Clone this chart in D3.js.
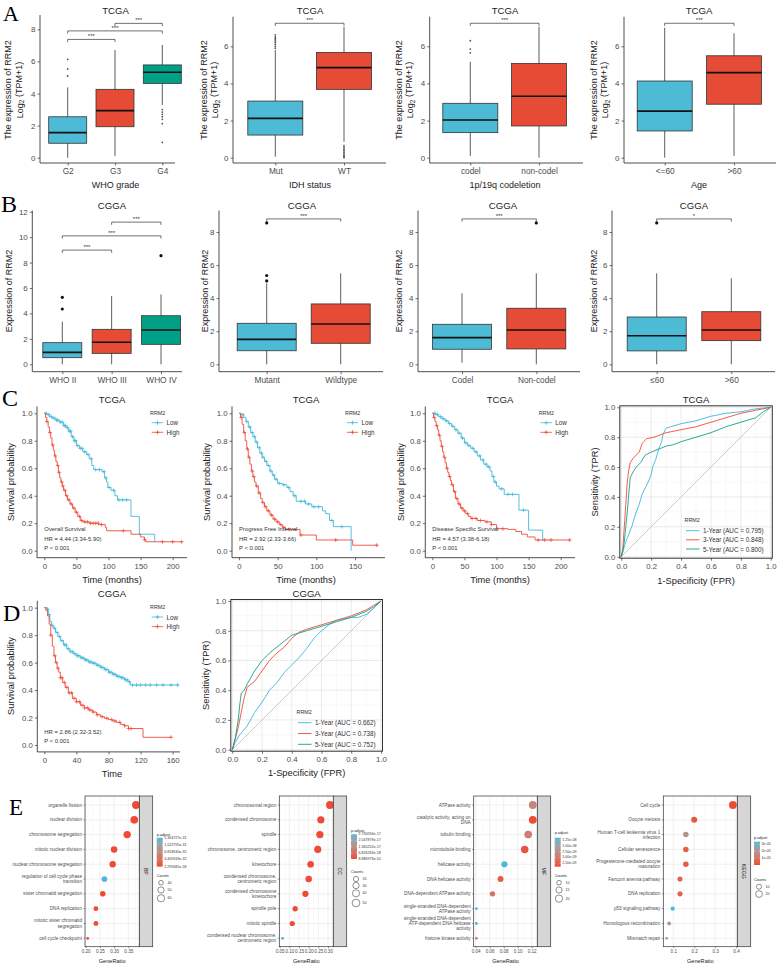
<!DOCTYPE html>
<html><head><meta charset="utf-8">
<script src="https://cdn.jsdelivr.net/npm/d3@7"></script>
<style>body{margin:0;background:#fff}</style>
</head><body><script>
// ================= DATA =================
const BLUE="#4DBBD5", RED="#E64B35", GREEN="#00A087";
// ---- Panel A (TCGA boxplots): stats = [whiskerLow, q1, median, q3, whiskerHigh]
const gradeCats=["G2","G3","G4"];
const gradeStats=[[0,0.9,1.56,2.55,4.38],[0.1,1.93,2.93,4.26,6.71],[3.28,4.63,5.32,5.78,7.02]];
const gradeOut=[[6.13,5.53,5.09],[],[3.0,2.84,2.7,2.55,2.39,2.12,0.95]];
const gradeSig=[[0,1,7.37,"***"],[0,2,7.9,"***"],[1,2,8.37,"***"]];
const idhCats=["Mut","WT"];
const idhStats=[[0.05,1.22,2.12,3.05,5.8],[0.86,3.68,4.85,5.67,7.05]];
const idhOut=[[6.62,6.5,6.42,6.35,6.28,6.2,6.1,6.0,5.9],[0.65,0.55,0.46,0.38,0.3,0.2,0.12,0.05,0.0]];
const codelCats=["codel","non-codel"];
const codelStats=[[0.1,1.35,2.03,2.93,5.16],[0,1.71,3.31,5.08,7.05]];
const codelOut=[[6.3,5.85,5.65],[]];
const ageCats=["<=60",">60"];
const ageStats=[[0,1.44,2.51,4.13,7.0],[0.1,2.88,4.58,5.49,6.7]];
const ageOut=[[],[]];
const pairSigA=[[0,1,7.24,"***"]];
// ---- Panel B (CGGA boxplots)
const cgGradeCats=["WHO II","WHO III","WHO IV"];
const cgGradeStats=[[0,0.52,0.94,1.7,3.35],[0,0.86,1.73,2.75,5.37],[0,1.57,2.7,3.82,5.5]];
const cgGradeOut=[[5.27,4.35],[],[8.54]];
const cgGradeSig=[[0,1,8.98,"***"],[0,2,10.1,"***"],[1,2,11.18,"***"]];
const cgIdhCats=["Mutant","Wildtype"];
const cgIdhStats=[[0,0.82,1.51,2.48,4.9],[0,1.27,2.44,3.65,5.5]];
const cgIdhOut=[[8.55,5.37,5.04],[]];
const cgCodelCats=["Codel","Non-codel"];
const cgCodelStats=[[0.1,0.91,1.61,2.42,4.29],[0,0.93,2.07,3.39,5.5]];
const cgCodelOut=[[],[8.55]];
const cgAgeCats=["\u226460",">60"];
const cgAgeStats=[[0,0.81,1.73,2.86,5.5],[0,1.43,2.07,3.18,5.2]];
const cgAgeOut=[[8.55],[]];
const cgSig3=[[0,1,8.79,"***"]];
const cgSig1=[[0,1,8.79,"*"]];
// ---- Panel C/D survival curves [time, survival]
const osLow=[[0,1],[4,0.99],[8,0.975],[12,0.965],[18,0.95],[24,0.935],[30,0.91],[34,0.895],[38,0.87],[42,0.83],[46,0.8],[50,0.765],[55,0.745],[60,0.72],[66,0.7],[70,0.67],[74,0.62],[77,0.59],[90,0.575],[94,0.53],[97,0.5],[99,0.46],[104,0.44],[110,0.4],[114,0.37],[135,0.25],[148,0.12],[172,0.065]];
const osHigh=[[0,1],[2,0.97],[4,0.94],[6,0.9],[8,0.86],[10,0.82],[12,0.77],[14,0.73],[16,0.69],[18,0.65],[20,0.62],[22,0.57],[24,0.53],[26,0.5],[28,0.47],[30,0.44],[33,0.4],[36,0.37],[40,0.34],[44,0.31],[48,0.28],[52,0.25],[56,0.22],[60,0.21],[70,0.2],[85,0.19],[95,0.17],[97,0.145],[135,0.12],[150,0.1],[156,0.08],[158,0.065],[215,0.065]];
const osLowCens=[3,7,11,15,19,21,25,28,31,33,36,39,41,44,47,49,52,56,59,63,68,73,80,86,93,96,101,108,116,122,128];
const osHighCens=[4,9,13,17,21,23,27,29,32,35,38,42,46,50,55,58,63,67,72,76,80,84,89,123,156,184,200,214];
const pfiLow=[[0,1],[3,0.99],[6,0.97],[9,0.94],[12,0.9],[15,0.86],[18,0.83],[21,0.79],[24,0.75],[27,0.71],[30,0.68],[33,0.65],[36,0.62],[40,0.58],[43,0.55],[46,0.52],[50,0.49],[56,0.48],[62,0.46],[66,0.43],[70,0.4],[74,0.36],[86,0.34],[94,0.32],[108,0.29],[112,0.27],[117,0.22],[122,0.175],[145,0]];
const pfiHigh=[[0,1],[2,0.97],[4,0.92],[6,0.86],[8,0.8],[10,0.74],[12,0.68],[14,0.63],[16,0.58],[18,0.54],[20,0.5],[22,0.47],[25,0.42],[28,0.38],[30,0.35],[33,0.32],[36,0.29],[40,0.26],[44,0.23],[48,0.21],[52,0.19],[56,0.17],[60,0.155],[79,0.114],[100,0.078],[147,0.04],[180,0.04]];
const pfiLowCens=[5,10,14,17,20,23,26,29,31,35,38,41,45,48,52,58,64,72,80,85,90,97,103,120,133];
const pfiHighCens=[3,7,11,13,17,19,23,26,31,34,38,42,46,50,54,58,65,80,125,178];
const dssLow=[[0,1],[5,0.99],[10,0.975],[15,0.96],[20,0.945],[25,0.925],[30,0.905],[35,0.88],[40,0.855],[45,0.82],[50,0.785],[55,0.765],[60,0.745],[65,0.72],[70,0.69],[75,0.66],[80,0.63],[85,0.61],[90,0.58],[93,0.54],[96,0.5],[100,0.47],[104,0.45],[112,0.41],[135,0.295],[150,0.15],[172,0.073]];
const dssHigh=[[0,1],[2,0.97],[4,0.94],[6,0.91],[8,0.88],[10,0.84],[12,0.8],[14,0.76],[16,0.72],[18,0.68],[20,0.64],[22,0.6],[24,0.57],[26,0.54],[28,0.51],[30,0.48],[33,0.43],[36,0.38],[40,0.34],[44,0.31],[48,0.29],[52,0.27],[56,0.25],[60,0.235],[70,0.22],[82,0.21],[92,0.19],[100,0.16],[118,0.155],[130,0.14],[139,0.12],[148,0.1],[160,0.078],[215,0.078]];
const dssLowCens=[4,8,13,17,22,27,32,37,42,47,52,57,63,68,74,79,84,88,95,98,108,118,125,142];
const dssHighCens=[3,7,11,15,19,23,27,31,35,38,42,46,50,55,62,68,75,85,92,110,165,175,185,214];
const cgLow=[[0,1],[3,0.99],[5,0.95],[7,0.9],[9,0.87],[11,0.85],[14,0.82],[17,0.79],[20,0.76],[24,0.73],[28,0.7],[32,0.68],[36,0.665],[40,0.65],[45,0.635],[50,0.62],[55,0.605],[60,0.595],[65,0.58],[70,0.565],[75,0.55],[80,0.53],[85,0.515],[90,0.5],[95,0.49],[100,0.475],[104,0.46],[107,0.437],[168,0.437]];
const cgHigh=[[0,1],[2,0.98],[4,0.94],[6,0.88],[8,0.8],[10,0.72],[12,0.65],[14,0.6],[16,0.56],[18,0.53],[20,0.49],[23,0.455],[26,0.42],[30,0.38],[35,0.34],[40,0.315],[45,0.29],[50,0.27],[55,0.255],[60,0.24],[65,0.22],[70,0.206],[75,0.195],[80,0.185],[85,0.175],[90,0.165],[95,0.15],[100,0.14],[105,0.12],[123,0.056],[158,0.056]];
const cgLowCens=[4,6,10,13,16,19,22,25,27,30,33,35,38,41,43,46,48,51,53,56,58,61,63,66,68,71,73,76,78,81,83,86,88,91,93,96,98,101,103,106,110,115,120,126,132,140,148,158,166];
const cgHighCens=[8,13,15,17,20,22,25,28,31,34,37,40,44,47,50,54,57,61,66,72,78,84,88,94,100,105,108,158];
// ---- ROC curves [FPR, TPR]
const tcga1y=[[0,0],[0.01,0.03],[0.03,0.1],[0.05,0.15],[0.07,0.2],[0.09,0.27],[0.1,0.3],[0.12,0.35],[0.14,0.42],[0.16,0.46],[0.18,0.5],[0.2,0.55],[0.21,0.6],[0.23,0.65],[0.25,0.72],[0.27,0.77],[0.28,0.82],[0.3,0.86],[0.33,0.87],[0.4,0.89],[0.5,0.91],[0.6,0.94],[0.7,0.96],[0.8,0.97],[0.85,0.98],[0.9,0.99],[1,1]];
const tcga3y=[[0,0],[0.01,0.05],[0.02,0.2],[0.03,0.35],[0.04,0.5],[0.05,0.58],[0.06,0.63],[0.08,0.66],[0.1,0.68],[0.12,0.7],[0.14,0.76],[0.17,0.79],[0.22,0.8],[0.3,0.83],[0.4,0.85],[0.5,0.87],[0.6,0.9],[0.7,0.93],[0.8,0.96],[0.9,0.98],[1,1]];
const tcga5y=[[0,0],[0.01,0.04],[0.02,0.1],[0.03,0.2],[0.04,0.3],[0.05,0.42],[0.06,0.53],[0.08,0.57],[0.1,0.6],[0.13,0.63],[0.16,0.68],[0.2,0.7],[0.25,0.72],[0.3,0.74],[0.35,0.75],[0.4,0.77],[0.5,0.8],[0.6,0.83],[0.7,0.87],[0.8,0.9],[0.9,0.93],[0.95,0.97],[1,1]];
const cgga1y=[[0,0],[0.02,0.05],[0.05,0.1],[0.1,0.16],[0.15,0.25],[0.2,0.32],[0.25,0.4],[0.3,0.45],[0.35,0.52],[0.4,0.57],[0.45,0.62],[0.5,0.68],[0.55,0.75],[0.6,0.8],[0.65,0.84],[0.7,0.87],[0.8,0.89],[0.85,0.89],[0.9,0.91],[0.95,0.95],[1,1]];
const cgga3y=[[0,0],[0.02,0.07],[0.04,0.15],[0.06,0.25],[0.08,0.35],[0.1,0.42],[0.15,0.46],[0.2,0.53],[0.25,0.6],[0.3,0.65],[0.35,0.69],[0.4,0.75],[0.45,0.79],[0.5,0.81],[0.6,0.84],[0.7,0.87],[0.8,0.9],[0.9,0.94],[0.95,0.97],[1,1]];
const cgga5y=[[0,0],[0.02,0.08],[0.04,0.2],[0.05,0.3],[0.06,0.38],[0.08,0.4],[0.1,0.44],[0.15,0.53],[0.2,0.6],[0.25,0.65],[0.3,0.69],[0.35,0.73],[0.4,0.77],[0.5,0.8],[0.6,0.83],[0.7,0.86],[0.8,0.89],[0.9,0.93],[0.95,0.96],[1,1]];
const tcgaRocLabels=["1-Year (AUC = 0.795)","3-Year (AUC = 0.848)","5-Year (AUC = 0.800)"];
const cggaRocLabels=["1-Year (AUC = 0.662)","3-Year (AUC = 0.738)","5-Year (AUC = 0.752)"];
// ---- Panel E enrichment
const bpTerms=["organelle fission","nuclear division","chromosome segregation","mitotic nuclear division","nuclear chromosome segregation","regulation of cell cycle phase\ntransition","sister chromatid segregation","DNA replication","mitotic sister chromatid\nsegregation","cell cycle checkpoint"];
const bpRatio=[0.377,0.371,0.346,0.30,0.295,0.266,0.26,0.236,0.236,0.207];
const bpCount=[65,64,60,52,51,46,45,41,41,36];
const bpP=[2.3e-58,1e-55,3e-50,2e-45,1e-44,1.363727e-31,5e-40,2e-35,4e-35,1e-34];
const bpPLabels=["1.363727e-31","1.022795e-31","6.818630e-32","3.409318e-32","2.299081e-58"];
const bpCountBreaks=[40,50,60];
const ccTerms=["chromosomal region","condensed chromosome","spindle","chromosome, centromeric region","kinetochore","condensed chromosome,\ncentromeric region","condensed chromosome\nkinetochore","spindle pole","mitotic spindle","condensed nuclear chromosome,\ncentromeric region"];
const ccRatio=[0.31,0.263,0.258,0.247,0.21,0.20,0.183,0.13,0.115,0.065];
const ccCount=[50,42,42,40,34,32,29,21,19,10];
const ccP=[8.886973e-50,1e-45,3e-44,1e-42,1e-38,5e-36,1e-34,2e-25,5e-24,2.730594e-17];
const ccPLabels=["2.730594e-17","2.047879e-17","1.365252e-17","6.826263e-18","8.886973e-50"];
const ccCountBreaks=[20,30,40,50];
const mfTerms=["ATPase activity","catalytic activity, acting on\nDNA","tubulin binding","microtubule binding","helicase activity","DNA helicase activity","DNA-dependent ATPase activity","single-stranded DNA-dependent\nATPase activity","single-stranded DNA-dependent\nATP-dependent DNA helicase\nactivity","histone kinase activity"];
const mfRatio=[0.1215,0.1215,0.115,0.11,0.081,0.0755,0.064,0.041,0.041,0.041];
const mfCount=[23,23,22,21,15,14,12,8,8,8];
const mfP=[6.5e-9,1e-9,5.5e-9,1.6e-9,1.35e-8,2.3e-9,4.5e-9,1.35e-8,1.35e-8,5e-9];
const mfPLabels=["1.25e-08","1.00e-08","7.50e-09","5.00e-09","2.50e-09"];
const mfCountBreaks=[10,15,20];
const keggTerms=["Cell cycle","Oocyte meiosis","Human T-cell leukemia virus 1\ninfection","Cellular senescence","Progesterone-mediated oocyte\nmaturation","Fanconi anemia pathway","DNA replication","p53 signaling pathway","Homologous recombination","Mismatch repair"];
const keggRatio=[0.385,0.2,0.16,0.16,0.16,0.132,0.132,0.097,0.08,0.068];
const keggCount=[29,15,12,12,12,10,10,7,6,5];
const keggP=[1e-12,2e-6,1.8e-5,4e-6,4e-6,5e-6,5e-6,3.4e-5,2e-5,2.2e-5];
const keggPLabels=["3e-05","2e-05","1e-05"];
const keggCountBreaks=[10,20];

// ================= DRAWING =================
const FONT="'Liberation Sans', Arial, Helvetica, sans-serif";
const SERIF="'Liberation Serif','Times New Roman',serif";
const svg=d3.select("body").append("svg").attr("width",777).attr("height",964).style("display","block");

function txt(g,x,y,s,o={}){
  const t=g.append("text").attr("x",x).attr("y",y).text(s)
    .attr("font-family",o.family||FONT).attr("font-size",o.size||8)
    .attr("fill",o.fill||"#222").attr("text-anchor",o.anchor||"start");
  if(o.base) t.attr("dominant-baseline",o.base);
  if(o.rotate!=null) t.attr("transform",`rotate(${o.rotate},${x},${y})`);
  return t;
}
function styleAxis(a,fs,col){
  a.select(".domain").remove();
  a.selectAll(".tick line").attr("stroke","#333").attr("stroke-width",0.7);
  a.selectAll(".tick text").attr("font-size",fs).attr("fill",col||"#4d4d4d").attr("font-family",FONT);
}

// ---------- Boxplot panel ----------
function boxPanel(o){
  const g=svg.append("g");
  const y=d3.scaleLinear().domain(o.yAnchor).range(o.yPix);
  const x=d3.scalePoint().domain(o.cats).range(o.xPix);
  o.stats.forEach((s,i)=>{
    const cx=x(o.cats[i]);
    g.append("line").attr("x1",cx).attr("x2",cx).attr("y1",y(s[0])).attr("y2",y(s[4])).attr("stroke","#333").attr("stroke-width",0.8);
    g.append("rect").attr("x",cx-o.boxW/2).attr("y",y(s[3])).attr("width",o.boxW).attr("height",y(s[1])-y(s[3]))
      .attr("fill",o.colors[i]).attr("stroke","#333").attr("stroke-width",0.8);
    g.append("line").attr("x1",cx-o.boxW/2).attr("x2",cx+o.boxW/2).attr("y1",y(s[2])).attr("y2",y(s[2])).attr("stroke","#111").attr("stroke-width",1.6);
    (o.out[i]||[]).forEach(v=>g.append("circle").attr("cx",cx).attr("cy",y(v)).attr("r",o.outR).attr("fill",o.outFill));
  });
  (o.sig||[]).forEach(b=>{
    const x1=x(o.cats[b[0]]),x2=x(o.cats[b[1]]),yy=y(b[2]);
    g.append("path").attr("d",`M${x1},${yy+2.7}V${yy}H${x2}V${yy+2.7}`).attr("fill","none").attr("stroke","#333").attr("stroke-width",0.7);
    txt(g,(x1+x2)/2,yy-1.2,b[3],{size:6,anchor:"middle",fill:"#333"});
  });
  g.append("line").attr("x1",o.axX).attr("x2",o.axX).attr("y1",o.axTop).attr("y2",o.axBot).attr("stroke","#222").attr("stroke-width",0.8);
  g.append("line").attr("x1",o.axX).attr("x2",o.axRight).attr("y1",o.axBot).attr("y2",o.axBot).attr("stroke","#222").attr("stroke-width",0.8);
  const ay=g.append("g").attr("transform",`translate(${o.axX},0)`).call(d3.axisLeft(y).tickValues(o.yTicks).tickSize(2.5).tickPadding(2).tickFormat(d3.format("d")));
  styleAxis(ay,8);
  const ax=g.append("g").attr("transform",`translate(0,${o.axBot})`).call(d3.axisBottom(x).tickSize(2.5).tickPadding(3));
  styleAxis(ax,8.3);
  txt(g,o.cx,o.titleY,o.title,{size:9.6,anchor:"middle",base:"central",fill:"#222"});
  if(o.xlab) txt(g,o.cx,o.xlabY,o.xlab,{size:9,anchor:"middle",base:"central",fill:"#222"});
  if(o.ylab2){
    txt(g,o.ylabX[0],o.ylabY,o.ylab,{size:9,anchor:"middle",rotate:-90});
    const t=g.append("text").attr("x",o.ylabX[1]).attr("y",o.ylabY).attr("font-family",FONT).attr("font-size",9).attr("fill","#222")
      .attr("text-anchor","middle").attr("transform",`rotate(-90,${o.ylabX[1]},${o.ylabY})`);
    t.append("tspan").text("Log");
    t.append("tspan").text("2").attr("font-size",6.5).attr("dy","0.3em");
    t.append("tspan").text(" (TPM+1)").attr("dy","-0.3em");
  } else {
    txt(g,o.ylabX[0],o.ylabY,o.ylab,{size:9,anchor:"middle",rotate:-90});
  }
}

const A={yTicks:null,axTop:15,axBot:163,titleY:10,xlabY:185,ylabY:90,outR:0.9,outFill:"#555",ylab:"The expression of RRM2",ylab2:true};
boxPanel({...A,cats:gradeCats,stats:gradeStats,out:gradeOut,sig:gradeSig,colors:[BLUE,RED,GREEN],xPix:[67.7,162.3],boxW:38,
  yAnchor:[0,8],yPix:[157.7,29.3],yTicks:[0,2,4,6,8],axX:40,axRight:175,cx:115.5,title:"TCGA",xlab:"WHO grade",ylabX:[11,22.5]});
boxPanel({...A,cats:idhCats,stats:idhStats,out:idhOut,sig:pairSigA,colors:[BLUE,RED],xPix:[275.3,344],boxW:55,
  yAnchor:[0,6],yPix:[157.7,46.3],yTicks:[0,2,4,6],axX:233,axTop:16.7,axRight:386,cx:310,title:"TCGA",xlab:"IDH status",ylabX:[206.5,218]});
boxPanel({...A,cats:codelCats,stats:codelStats,out:codelOut,sig:pairSigA,colors:[BLUE,RED],xPix:[470.3,539],boxW:55,
  yAnchor:[0,6],yPix:[157.7,46.3],yTicks:[0,2,4,6],axX:429.7,axTop:16.7,axRight:583,cx:505,title:"TCGA",xlab:"1p/19q codeletion",ylabX:[401.5,413]});
boxPanel({...A,cats:ageCats,stats:ageStats,out:ageOut,sig:pairSigA,colors:[BLUE,RED],xPix:[664.7,734],boxW:55,
  yAnchor:[0,6],yPix:[157.7,46.3],yTicks:[0,2,4,6],axX:624,axTop:16.7,axRight:776,cx:699,title:"TCGA",xlab:"Age",ylabX:[596.5,608]});

const B={axTop:210.5,axBot:371.7,titleY:205,ylabY:291,outR:1.6,outFill:"#111",ylab:"Expression of RRM2",ylab2:false};
boxPanel({...B,cats:cgGradeCats,stats:cgGradeStats,out:cgGradeOut,sig:cgGradeSig,colors:[BLUE,RED,GREEN],xPix:[62.3,161],boxW:39,
  yAnchor:[0,12],yPix:[364.3,211.7],yTicks:[0,2,4,6,8,10,12],axX:32.3,axRight:182,cx:112,title:"CGGA",ylabX:[12]});
boxPanel({...B,cats:cgIdhCats,stats:cgIdhStats,out:cgIdhOut,sig:cgSig3,colors:[BLUE,RED],xPix:[266.7,340.7],boxW:59,
  yAnchor:[0,8],yPix:[364.3,232],yTicks:[0,2,4,6,8],axX:219,axRight:383,cx:302,title:"CGGA",ylabX:[207.5]});
boxPanel({...B,cats:cgCodelCats,stats:cgCodelStats,out:cgCodelOut,sig:cgSig3,colors:[BLUE,RED],xPix:[462,536.3],boxW:59,
  yAnchor:[0,8],yPix:[364.3,232],yTicks:[0,2,4,6,8],axX:418,axRight:580,cx:503,title:"CGGA",ylabX:[402]});
boxPanel({...B,cats:cgAgeCats,stats:cgAgeStats,out:cgAgeOut,sig:cgSig1,colors:[BLUE,RED],xPix:[656.7,731.3],boxW:59,
  yAnchor:[0,8],yPix:[364.3,232],yTicks:[0,2,4,6,8],axX:612,axRight:775,cx:694,title:"CGGA",ylabX:[596.5]});

// ---------- KM panel ----------
const KLOW="#45B9D9", KHIGH="#EE4D3A";
function survAt(c,t){let s=c[0][1];for(const p of c){if(p[0]<=t)s=p[1];else break;}return s;}
function kmPanel(o){
  const g=svg.append("g");
  const x=d3.scaleLinear().domain(o.xAnchor).range(o.xPix);
  const y=d3.scaleLinear().domain([0,1]).range(o.yPix);
  const line=d3.line().x(d=>x(d[0])).y(d=>y(d[1])).curve(d3.curveStepAfter);
  [[o.low,o.lowC,KLOW],[o.high,o.highC,KHIGH]].forEach(([c,cens,col])=>{
    g.append("path").attr("d",line(c)).attr("fill","none").attr("stroke",col).attr("stroke-width",0.9);
    const p=cens.map(t=>{const cx=x(t),cy=y(survAt(c,t));return `M${cx-2},${cy}h4M${cx},${cy-2}v4`;}).join("");
    g.append("path").attr("d",p).attr("stroke",col).attr("stroke-width",0.7).attr("fill","none");
  });
  g.append("line").attr("x1",o.axX).attr("x2",o.axX).attr("y1",o.axTop).attr("y2",o.axBot).attr("stroke","#222").attr("stroke-width",0.8);
  g.append("line").attr("x1",o.axX).attr("x2",o.axRight).attr("y1",o.axBot).attr("y2",o.axBot).attr("stroke","#222").attr("stroke-width",0.8);
  const ay=g.append("g").attr("transform",`translate(${o.axX},0)`).call(d3.axisLeft(y).tickValues([0,0.2,0.4,0.6,0.8,1]).tickSize(2.5).tickPadding(2).tickFormat(d3.format(".1f")));
  styleAxis(ay,7.8);
  const ax=g.append("g").attr("transform",`translate(0,${o.axBot})`).call(d3.axisBottom(x).tickValues(o.xTicks).tickSize(2.5).tickPadding(3).tickFormat(d3.format("d")));
  styleAxis(ax,7.8);
  txt(g,o.cx,o.titleY,o.title,{size:9.6,anchor:"middle",base:"central"});
  txt(g,o.cx,o.xlabY,o.xlab,{size:9.3,anchor:"middle",base:"central"});
  txt(g,o.ylabX,o.ylabY,"Survival probability",{size:9.3,anchor:"middle",rotate:-90});
  // legend
  txt(g,o.legX,o.legY,"RRM2",{size:5.4,base:"central",fill:"#333"});
  [["Low",KLOW],["High",KHIGH]].forEach(([n,col],i)=>{
    const yy=o.legY+9.7+i*9.6, x1=o.legX+1.7, x2=o.legX+13.3, mx=(x1+x2)/2;
    g.append("path").attr("d",`M${x1},${yy}H${x2}M${mx-2},${yy}h4M${mx},${yy-2}v4`).attr("stroke",col).attr("stroke-width",0.8);
    txt(g,o.legX+16.5,yy,n,{size:6.3,base:"central",fill:"#333"});
  });
  o.annot.forEach((s,i)=>txt(g,o.annX,o.annY[i],s,{size:5.9,base:"central",fill:"#333"}));
}
const Crow={yPix:[550.7,413.3],axTop:406.4,axBot:557.7,titleY:399,xlab:"Time (months)",xlabY:580,ylabY:482,legY:413,annY:[529,539,548.3]};
kmPanel({...Crow,xAnchor:[0,200],xPix:[44.3,172.7],axX:37,axRight:187,xTicks:[0,50,100,150,200],title:"TCGA",cx:112,ylabX:14,
  low:osLow,high:osHigh,lowC:osLowCens,highC:osHighCens,legX:150,annX:44.3,annot:["Overall Survival","HR = 4.44 (3.34-5.90)","P < 0.001"]});
kmPanel({...Crow,xAnchor:[0,150],xPix:[239,355],axX:232,axRight:385,xTicks:[0,50,100,150],title:"TCGA",cx:306,ylabX:209.5,
  low:pfiLow,high:pfiHigh,lowC:pfiLowCens,highC:pfiHighCens,legX:345,annX:239,annot:["Progress Free Interval","HR = 2.92 (2.33-3.66)","P < 0.001"]});
kmPanel({...Crow,xAnchor:[0,200],xPix:[432.3,560.7],axX:425.3,axRight:575,xTicks:[0,50,100,150,200],title:"TCGA",cx:500,ylabX:403.5,
  low:dssLow,high:dssHigh,lowC:dssLowCens,highC:dssHighCens,legX:538.7,annX:432.3,annot:["Disease Specific Survival","HR = 4.57 (3.38-6.18)","P < 0.001"]});
kmPanel({yPix:[745,607.7],axTop:600.8,axBot:751.9,titleY:593,xlab:"Time",xlabY:774,ylabY:676,legY:607.3,annY:[731.7,740.7],
  xAnchor:[0,160],xPix:[44.3,172.7],axX:37.3,axRight:180,xTicks:[0,40,80,120,160],title:"CGGA",cx:112,ylabX:14,
  low:cgLow,high:cgHigh,lowC:cgLowCens,highC:cgHighCens,legX:150,annX:44.3,annot:["HR = 2.86 (2.32-3.52)","P < 0.001"]});

// ---------- ROC panel ----------
const RCOL=["#3DB8DA","#F04C3B","#13A286"];
function rocPanel(o){
  const g=svg.append("g");
  const x=d3.scaleLinear().domain([0,1]).range(o.xPix);
  const y=d3.scaleLinear().domain([0,1]).range(o.yPix);
  const [px0,px1]=o.panelX,[py0,py1]=o.panelY;
  g.append("rect").attr("x",px0).attr("y",py0).attr("width",px1-px0).attr("height",py1-py0).attr("fill","#fff");
  const minor=[0.1,0.3,0.5,0.7,0.9], major=[0,0.2,0.4,0.6,0.8,1];
  minor.forEach(v=>{
    g.append("line").attr("x1",x(v)).attr("x2",x(v)).attr("y1",py0).attr("y2",py1).attr("stroke","#f1f1f1").attr("stroke-width",0.5);
    g.append("line").attr("y1",y(v)).attr("y2",y(v)).attr("x1",px0).attr("x2",px1).attr("stroke","#f1f1f1").attr("stroke-width",0.5);
  });
  major.forEach(v=>{
    g.append("line").attr("x1",x(v)).attr("x2",x(v)).attr("y1",py0).attr("y2",py1).attr("stroke","#e2e2e2").attr("stroke-width",0.7);
    g.append("line").attr("y1",y(v)).attr("y2",y(v)).attr("x1",px0).attr("x2",px1).attr("stroke","#e2e2e2").attr("stroke-width",0.7);
  });
  g.append("line").attr("x1",x(0)).attr("y1",y(0)).attr("x2",x(1)).attr("y2",y(1)).attr("stroke","#c4c4c4").attr("stroke-width",0.9);
  const line=d3.line().x(d=>x(d[0])).y(d=>y(d[1]));
  o.curves.forEach((c,i)=>g.append("path").attr("d",line(c)).attr("fill","none").attr("stroke",RCOL[i]).attr("stroke-width",0.9));
  g.append("rect").attr("x",px0).attr("y",py0).attr("width",px1-px0).attr("height",py1-py0).attr("fill","none").attr("stroke","#333").attr("stroke-width",1);
  const ay=g.append("g").attr("transform",`translate(${px0},0)`).call(d3.axisLeft(y).tickValues(major).tickSize(2.5).tickPadding(2).tickFormat(d3.format(".1f")));
  styleAxis(ay,7.8);
  const ax=g.append("g").attr("transform",`translate(0,${py1})`).call(d3.axisBottom(x).tickValues(major).tickSize(2.5).tickPadding(3).tickFormat(d3.format(".1f")));
  styleAxis(ax,7.8);
  const cx=(px0+px1)/2;
  txt(g,cx,o.titleY,o.title,{size:9.6,anchor:"middle",base:"central"});
  txt(g,cx,o.xlabY,"1-Specificity (FPR)",{size:9.3,anchor:"middle",base:"central"});
  txt(g,o.ylabX,(py0+py1)/2,"Sensitivity (TPR)",{size:9.3,anchor:"middle",rotate:-90});
  txt(g,o.legX,o.legY[0],"RRM2",{size:5.4,base:"central",fill:"#333"});
  o.labels.forEach((s,i)=>{
    const yy=o.legY[i+1];
    g.append("line").attr("x1",o.legX+1.5).attr("x2",o.legX+15).attr("y1",yy).attr("y2",yy).attr("stroke",RCOL[i]).attr("stroke-width",0.9);
    txt(g,o.legX+18.5,yy,s,{size:6.3,base:"central",fill:"#333"});
  });
}
rocPanel({xPix:[621.3,770.7],yPix:[556.7,407.3],panelX:[619.8,772.3],panelY:[405.8,558.2],title:"TCGA",titleY:399,xlabY:581,ylabX:597.5,
  curves:[tcga1y,tcga3y,tcga5y],labels:tcgaRocLabels,legX:684.5,legY:[520,530.7,539.8,549]});
rocPanel({xPix:[232.3,381],yPix:[749.7,601],panelX:[230.8,382.5],panelY:[599.5,751.2],title:"CGGA",titleY:593,xlabY:773,ylabX:209.5,
  curves:[cgga1y,cgga3y,cgga5y],labels:cggaRocLabels,legX:296.5,legY:[711.7,722.7,733.5,744.3]});

// ---------- Dot (enrichment) panel ----------
const DRED="#EE4A36", DBLUE="#4DB9D8";
function dotPanel(o){
  const g=svg.append("g");
  const x=d3.scaleLinear().domain(o.xAnchor).range(o.xPix);
  const y=d3.scalePoint().domain(o.terms).range([805,938.3]);
  const [px0,px1]=o.panelX, py0=796, py1=946.7;
  const pmin=d3.min(o.p), pmax=d3.max(o.p);
  const col=d3.scaleLinear().domain([pmin,pmax]).range([DRED,DBLUE]).interpolate(d3.interpolateLab);
  const cmin=d3.min(o.count), cmax=d3.max(o.count);
  const nrm=d3.scaleLinear().domain([cmin,cmax]).range([0,1]);
  const rad=c=>1.4+2.5*Math.sqrt(Math.max(0,nrm(c)));
  g.append("rect").attr("x",px0).attr("y",py0).attr("width",px1-px0).attr("height",py1-py0).attr("fill","#fff");
  const t=o.xTicks, step=t[1]-t[0];
  t.forEach(v=>{const m=v+step/2; if(x(m)<px1) g.append("line").attr("x1",x(m)).attr("x2",x(m)).attr("y1",py0).attr("y2",py1).attr("stroke","#f3f3f3").attr("stroke-width",0.4);});
  const m0=t[0]-step/2; if(x(m0)>px0) g.append("line").attr("x1",x(m0)).attr("x2",x(m0)).attr("y1",py0).attr("y2",py1).attr("stroke","#f3f3f3").attr("stroke-width",0.4);
  t.forEach(v=>g.append("line").attr("x1",x(v)).attr("x2",x(v)).attr("y1",py0).attr("y2",py1).attr("stroke","#e6e6e6").attr("stroke-width",0.6));
  o.terms.forEach(tm=>g.append("line").attr("x1",px0).attr("x2",px1).attr("y1",y(tm)).attr("y2",y(tm)).attr("stroke","#e6e6e6").attr("stroke-width",0.6));
  o.terms.forEach((tm,i)=>g.append("circle").attr("cx",x(o.ratio[i])).attr("cy",y(tm)).attr("r",rad(o.count[i])).attr("fill",col(o.p[i])));
  g.append("rect").attr("x",px0).attr("y",py0).attr("width",px1-px0).attr("height",py1-py0).attr("fill","none").attr("stroke","#333").attr("stroke-width",0.7);
  g.append("rect").attr("x",px1).attr("y",py0).attr("width",13.4).attr("height",py1-py0).attr("fill","#d6d6d6").attr("stroke","#333").attr("stroke-width",0.7);
  txt(g,px1+6.7,(py0+py1)/2,o.strip,{size:5.2,anchor:"middle",base:"central",rotate:90,fill:"#1a1a1a"});
  // y labels
  o.terms.forEach(tm=>{
    const lines=tm.split("\n"), n=lines.length;
    lines.forEach((l,k)=>txt(g,px0-3,y(tm)+(k-(n-1)/2)*5.2,l,{size:4.7,anchor:"end",base:"central",fill:"#4d4d4d"}));
    g.append("line").attr("x1",px0-1.5).attr("x2",px0).attr("y1",y(tm)).attr("y2",y(tm)).attr("stroke","#333").attr("stroke-width",0.5);
  });
  const ax=g.append("g").attr("transform",`translate(0,${py1})`).call(d3.axisBottom(x).tickValues(o.xTicks).tickSize(1.5).tickPadding(1.5).tickFormat(d3.format(o.fmt)));
  styleAxis(ax,4.6);
  ax.selectAll(".tick line").attr("stroke-width",0.5);
  txt(g,(px0+px1)/2,961,"GeneRatio",{size:5.6,anchor:"middle",base:"central",fill:"#222"});
  // color legend
  const L=o.leg;
  txt(g,L.x,L.pY,"p.adjust",{size:3.8,base:"central",fill:"#222"});
  const gid="grad_"+o.strip;
  const grad=svg.append("defs").append("linearGradient").attr("id",gid).attr("x1",0).attr("y1",1).attr("x2",0).attr("y2",0);
  d3.range(0,1.0001,0.1).forEach(f=>grad.append("stop").attr("offset",f).attr("stop-color",col(pmin+f*(pmax-pmin))));
  g.append("rect").attr("x",L.x).attr("y",L.g0).attr("width",6).attr("height",L.g1-L.g0).attr("fill",`url(#${gid})`);
  const ly=d3.scaleLinear().domain([pmin,pmax]).range([L.g1,L.g0]);
  o.pLabels.forEach(s=>{const v=+s; const yy=ly(v);
    g.append("line").attr("x1",L.x).attr("x2",L.x+1.2).attr("y1",yy).attr("y2",yy).attr("stroke","#fff").attr("stroke-width",0.4);
    g.append("line").attr("x1",L.x+4.8).attr("x2",L.x+6).attr("y1",yy).attr("y2",yy).attr("stroke","#fff").attr("stroke-width",0.4);
    txt(g,L.x+7.6,yy,s,{size:3.6,base:"central",fill:"#333"});});
  txt(g,L.x,L.cY,"Counts",{size:3.8,base:"central",fill:"#222"});
  o.cBreaks.forEach((c,i)=>{
    g.append("circle").attr("cx",L.cx).attr("cy",L.cYs[i]).attr("r",rad(c)).attr("fill","none").attr("stroke","#222").attr("stroke-width",0.5);
    txt(g,L.cx+6.5,L.cYs[i],String(c),{size:3.6,base:"central",fill:"#333"});
  });
}
dotPanel({terms:bpTerms,ratio:bpRatio,count:bpCount,p:bpP,pLabels:bpPLabels,cBreaks:bpCountBreaks,strip:"BP",
  xAnchor:[0.2,0.35],xPix:[85.7,128.3],xTicks:[0.2,0.25,0.3,0.35],fmt:".2f",panelX:[85,139.3],
  leg:{x:156.7,pY:835,g0:837.7,g1:866.7,cY:876,cx:161,cYs:[882.7,890,898.3]}});
dotPanel({terms:ccTerms,ratio:ccRatio,count:ccCount,p:ccP,pLabels:ccPLabels,cBreaks:ccCountBreaks,strip:"CC",
  xAnchor:[0.05,0.30],xPix:[279.7,328],xTicks:[0.05,0.1,0.15,0.2,0.25,0.3],fmt:".2f",panelX:[279.3,333.3],
  leg:{x:351,pY:831,g0:834.3,g1:859,cY:871.7,cx:356,cYs:[879,885.5,893.3,903]}});
dotPanel({terms:mfTerms,ratio:mfRatio,count:mfCount,p:mfP,pLabels:mfPLabels,cBreaks:mfCountBreaks,strip:"MF",
  xAnchor:[0.04,0.12],xPix:[475.7,531.7],xTicks:[0.04,0.06,0.08,0.1,0.12],fmt:".2f",panelX:[473.7,537.3],
  leg:{x:554.7,pY:833.3,g0:837.7,g1:866.7,cY:876,cx:559,cYs:[882.7,890,898.6]}});
dotPanel({terms:keggTerms,ratio:keggRatio,count:keggCount,p:keggP,pLabels:keggPLabels,cBreaks:keggCountBreaks,strip:"KEGG",
  xAnchor:[0.1,0.4],xPix:[673.3,736],xTicks:[0.1,0.2,0.3,0.4],fmt:".1f",panelX:[663.3,737.3],
  leg:{x:754,pY:838.3,g0:841.7,g1:865,cY:880,cx:759,cYs:[886.7,894]}});

// ---------- Panel letters ----------
[["A",3,20.5,22],["B",1,211.5,24],["C",2,406,24],["D",3,621,24],["E",9,815,23]].forEach(([s,x,y,fs])=>
  txt(svg,x,y,s,{size:fs,family:SERIF,fill:"#000"}));
</script></body></html>
